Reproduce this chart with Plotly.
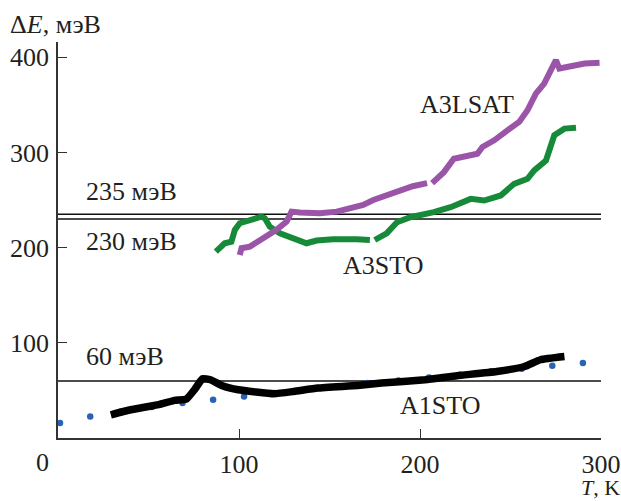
import plotly.graph_objects as go

# ---- data ----
lsat_T = [100.4, 101.4, 106.0, 110.6, 115.2, 120.7, 126.3, 129.0, 133.6, 144.7, 154.0, 159.5,
          168.6, 174.2, 181.6, 189.0, 196.0, 203.9, None, 206.7, 213.2, 218.7, 224.3, 231.7,
          234.5, 241.0, 248.3, 254.8, 259.4, 264.0, 268.6, 272.3, 275.1, 277.0, 281.6, 290.9, 299.2]
lsat_E = [192.3, 199.4, 201.0, 206.3, 211.5, 218.6, 227.3, 237.8, 237.0, 236.0, 237.8, 240.3,
          244.8, 250.0, 255.3, 260.5, 264.5, 267.8, None, 267.8, 279.3, 293.4, 295.0, 298.6,
          305.7, 312.7, 323.2, 332.0, 344.3, 361.8, 372.3, 384.6, 396.9, 388.1, 389.8, 393.4, 394.1]

sto3_T = [87.2, 89.4, 92.1, 95.8, 97.7, 100.4, 106.0, 112.4, 114.3, 117.0, 122.6, 130.0, 137.3,
          142.9, 152.0, 165.0, 172.3, None, 175.0, 181.6, 187.3, 194.7, 207.6, 216.9, 228.0,
          235.4, 244.6, 252.0, 259.4, 263.1, 269.6, 271.5, 274.2, 279.8, 286.2]
sto3_E = [195.8, 199.4, 204.6, 206.3, 218.6, 225.6, 229.0, 232.5, 230.8, 222.0, 215.0, 209.9, 204.6,
          207.4, 208.8, 208.8, 208.0, None, 208.0, 215.0, 226.6, 231.9, 237.2, 242.5, 251.2,
          249.5, 254.8, 267.0, 272.3, 281.1, 291.6, 303.9, 318.0, 325.0, 326.0]

sto1_T = [29.2, 40.2, 55.6, 64.4, 71.0, 75.4, 79.8, 84.2, 90.8, 99.6, 119.3, 130.3, 143.5,
          165.5, 178.7, 202.8, 220.4, 242.4, 257.7, 266.5, 279.8]
sto1_E = [24.4, 29.7, 35.0, 39.5, 41.0, 50.7, 62.2, 61.2, 54.9, 50.7, 46.5, 48.9, 52.5,
          55.2, 57.7, 61.2, 65.4, 69.9, 75.1, 82.2, 85.6]

calc_T = [1.1, 17.8, 34.7, 51.9, 68.8, 85.7, 102.8, 119.8, 136.9, 153.8, 171.0, 188.1,
          205.0, 222.0, 239.1, 256.2, 273.1, 290.0]
calc_E = [15.7, 22.7, 27.9, 32.5, 36.7, 40.2, 43.7, 47.2, 50.7, 54.2, 57.7, 60.4,
          63.6, 66.8, 69.9, 72.7, 75.9, 78.7]

level_E = [235, 230, 60]
level_T = [0, 300]

x_ticks = [100, 200, 300]
y_ticks = [100, 200, 300, 400]

FONT = "Liberation Serif"
TXT = "#231f20"
FS = 26

fig = go.Figure()

for lv in level_E:
    fig.add_trace(go.Scatter(x=level_T, y=[lv, lv], mode="lines",
                             line=dict(color="#111111", width=1.5),
                             hoverinfo="skip", showlegend=False))

fig.add_trace(go.Scatter(x=calc_T, y=calc_E, mode="markers",
                         marker=dict(symbol="circle", size=6.5, color="#2a62b5",
                                     line=dict(width=0)),
                         showlegend=False))

fig.add_trace(go.Scatter(x=sto1_T, y=sto1_E, mode="lines", connectgaps=False,
                         line=dict(color="#000000", width=7.5, shape="spline", smoothing=0.4),
                         showlegend=False))
fig.add_trace(go.Scatter(x=sto3_T, y=sto3_E, mode="lines", connectgaps=False,
                         line=dict(color="#178a3a", width=6),
                         showlegend=False))
fig.add_trace(go.Scatter(x=lsat_T, y=lsat_E, mode="lines", connectgaps=False,
                         line=dict(color="#9b55a8", width=6),
                         showlegend=False))

def note(x, y, text, xa="left", ref="data", size=FS):
    r = "x" if ref == "data" else "paper"
    ry = "y" if ref == "data" else "paper"
    fig.add_annotation(x=x, y=y, xref=r, yref=ry, text=text, showarrow=False,
                       xanchor=xa, yanchor="middle", borderpad=0,
                       font=dict(family=FONT, size=size, color=TXT))

note(14.7, 258.5, "235 мэВ")
note(14.7, 206.0, "230 мэВ")
note(14.7, 85.3, "60 мэВ")
note(199.3, 350.8, "A3LSAT")
note(156.7, 180.8, "A3STO")
note(188.4, 33.9, "A1STO")

# plot area in pixels: x 58.4..600.9, y 41.7..438.3
def px(xp):
    return (xp - 58.4) / 542.5
def py(yp):
    return (438.3 - yp) / 396.6

note(px(43), py(463), "0", xa="center", ref="paper")
note(px(9), py(24), "Δ<i>E</i>, мэВ", ref="paper")
note(px(621), py(488), "<i>T</i>, K", xa="right", ref="paper", size=22)

axis_common = dict(showgrid=False, zeroline=False, showline=True, linecolor="#333333",
                   linewidth=1.5, ticks="inside", ticklen=9, tickwidth=1.2,
                   tickcolor="#333333", automargin=False,
                   tickfont=dict(family=FONT, size=FS, color=TXT))

fig.update_layout(
    width=621, height=501,
    margin=dict(l=58.4, r=20.1, t=41.7, b=62.7),
    paper_bgcolor="white", plot_bgcolor="white",
    showlegend=False,
    xaxis=dict(range=[0, 300], tickvals=x_ticks, ticklabelstandoff=2, **axis_common),
    yaxis=dict(range=[0, 416], tickvals=y_ticks, ticklabelstandoff=2, **axis_common),
)

fig.write_html("out.html", config={"displayModeBar": False},
               post_script="document.body.style.margin='0';document.body.style.padding='0';")
